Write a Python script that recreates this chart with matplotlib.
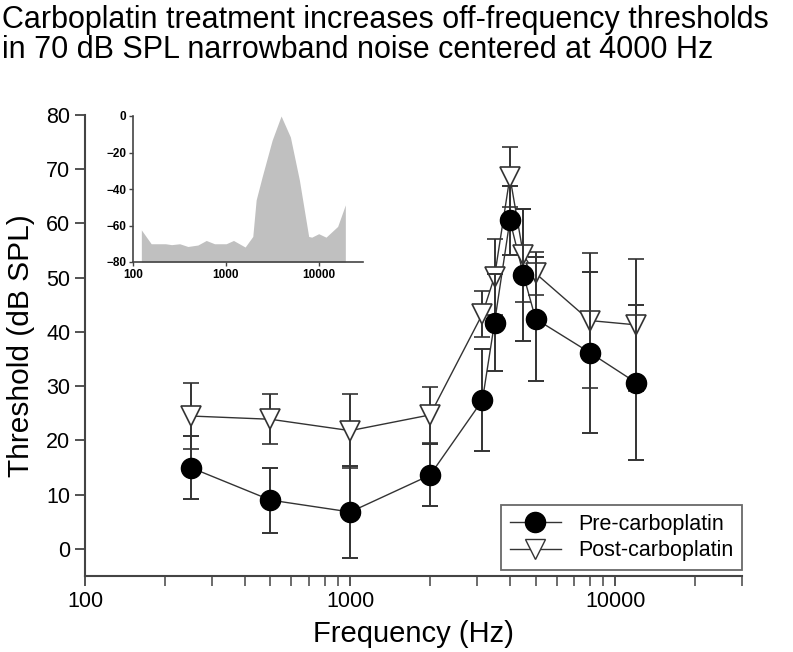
import matplotlib
matplotlib.use("Agg")
import matplotlib.pyplot as plt
import numpy as np
from matplotlib.lines import Line2D

plt.rcParams['font.family'] = ['Liberation Sans', 'DejaVu Sans']

# ---- data ----
freqs = [250, 500, 1000, 2000, 3150, 3500, 4000, 4500, 5000, 8000, 12000]
pre = [15.0, 9.0, 6.8, 13.6, 27.4, 41.7, 60.6, 50.5, 42.4, 36.2, 30.6]
pre_err = [5.8, 6.0, 8.5, 5.7, 9.4, 8.9, 6.4, 12.1, 11.4, 14.8, 14.3]
post = [24.5, 23.9, 21.8, 24.7, 43.3, 50.2, 68.6, 54.1, 50.8, 42.1, 41.3]
post_err = [6.1, 4.6, 6.8, 5.1, 4.2, 7.0, 5.5, 8.6, 4.0, 12.4, 12.2]

noise_f = [123, 157, 224, 260, 318, 390, 500, 615, 755, 1008, 1209, 1613, 1950,
           2120, 2460, 3150, 3935, 4955, 6190, 7800, 8410, 10000, 11990, 16000, 19360]
noise_db = [-62.4, -70, -70, -70.5, -70, -71.5, -70.7, -68.2, -70, -70, -68.2, -71.8, -66,
            -46, -33.3, -13.3, 0, -11.5, -35, -66, -66.4, -64.5, -66.4, -60.5, -48.7]

xticks = [100, 1000, 10000]
yticks = [0, 10, 20, 30, 40, 50, 60, 70, 80]
inset_yticks = [0, -20, -40, -60, -80]

title = ("Carboplatin treatment increases off-frequency thresholds\n"
         "in 70 dB SPL narrowband noise centered at 4000 Hz")

W, H = 793, 652
fig = plt.figure(figsize=(W / 100, H / 100), dpi=100)

def frac(l, t, r, b):
    return [l / W, 1 - b / H, (r - l) / W, (b - t) / H]

ax = fig.add_axes(frac(85, 115, 742, 576))
axcol = '#444444'
linecol = '#333333'

ax.errorbar(freqs, post, yerr=post_err, fmt='v', mfc='white', mec=linecol, mew=1.2,
            ms=14, color=linecol, ecolor=linecol, elinewidth=1.4, capsize=6, capthick=1.4,
            zorder=3)
ax.plot(freqs, post, '-', color=linecol, lw=1.0, zorder=2)
ax.errorbar(freqs, pre, yerr=pre_err, fmt='o', mfc='black', mec='black',
            ms=14.5, color=linecol, ecolor=linecol, elinewidth=1.4, capsize=6, capthick=1.4,
            zorder=4)
ax.plot(freqs, pre, '-', color=linecol, lw=1.0, zorder=2)

ax.set_xscale('log')
ax.set_xlim(100, 30000)
ax.set_ylim(-5, 80)
ax.set_xticks(xticks)
ax.set_xticklabels([str(v) for v in xticks])
ax.set_yticks(yticks)
ax.tick_params(axis='both', which='major', direction='out', length=7, width=1.3,
               colors=axcol, labelcolor='black', labelsize=15.5)
ax.tick_params(axis='x', which='minor', direction='out', length=7, width=1.1, colors=axcol)
for s in ['top', 'right']:
    ax.spines[s].set_visible(False)
for s in ['left', 'bottom']:
    ax.spines[s].set_color(axcol)
    ax.spines[s].set_linewidth(1.5)
ax.set_xlabel('Frequency (Hz)', fontsize=21, labelpad=6)
ax.set_ylabel('Threshold (dB SPL)', fontsize=21.5, labelpad=8)

handles = [Line2D([], [], color=linecol, lw=1.0, marker='o', mfc='black', mec='black', ms=14.5),
           Line2D([], [], color=linecol, lw=1.0, marker='v', mfc='white', mec=linecol, ms=14)]
leg = ax.legend(handles, ['Pre-carboplatin', 'Post-carboplatin'], loc='lower right',
                bbox_to_anchor=(1.017, -0.01), fontsize=15.5, frameon=True, fancybox=False,
                edgecolor=axcol, handlelength=2.4, handletextpad=0.8, borderpad=0.4,
                labelspacing=0.25)
leg.get_frame().set_linewidth(1.3)

fig.text(0.003, 0.993, title, fontsize=22, va='top', ha='left', linespacing=1.03)

# ---- inset ----
ins = fig.add_axes(frac(133, 116, 363, 262))
ins.fill_between(noise_f, noise_db, -80, color='#c0c0c0', lw=0)
ins.set_xscale('log')
ins.set_xlim(100, 30000)
ins.set_ylim(-80, 0)
ins.set_xticks(xticks)
ins.set_xticklabels([str(v) for v in xticks])
ins.set_yticks(inset_yticks)
ins.xaxis.set_minor_locator(matplotlib.ticker.NullLocator())
ins.tick_params(axis='both', which='major', direction='out', length=3, width=1.0,
                colors=axcol, labelcolor='black', labelsize=8.5, pad=2)
for lab in ins.get_xticklabels() + ins.get_yticklabels():
    lab.set_fontweight('bold')
for s in ['top', 'right']:
    ins.spines[s].set_visible(False)
for s in ['left', 'bottom']:
    ins.spines[s].set_color(axcol)
    ins.spines[s].set_linewidth(1.2)
ins.patch.set_alpha(0)

fig.savefig('out.png', dpi=100)
